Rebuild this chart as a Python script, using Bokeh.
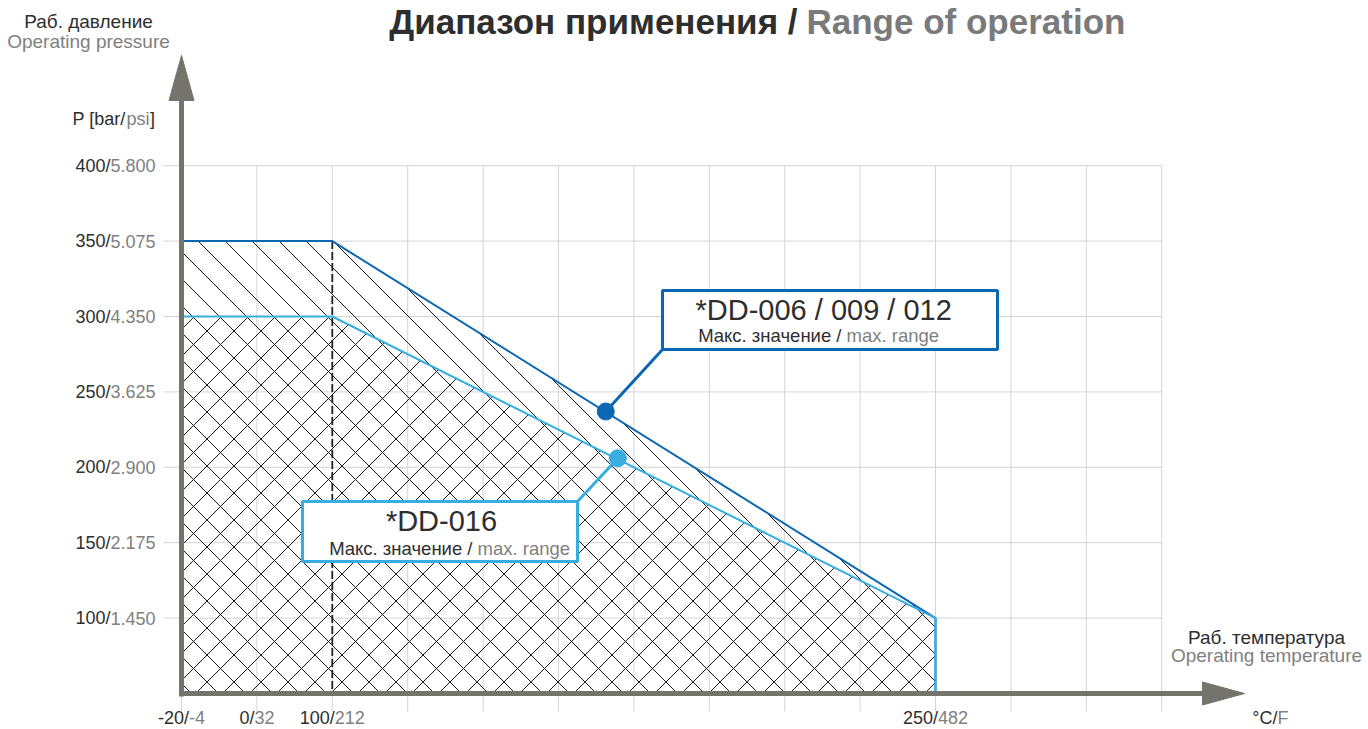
import numpy as np
from bokeh.plotting import figure
from bokeh.models import Range1d
from bokeh.core.properties import value
from bokeh.embed import file_html
from bokeh.resources import INLINE

# ------------------------------------------------------------------ data
temp_ticks_c = [-20, 0, 100, 250]
temp_ticks_f = ["-4", "32", "212", "482"]
temp_tick_pos = [0, 1, 2, 10]          # non-linear temperature axis -> grid-cell index
n_grid_cells_x = 13

pressure_ticks_bar = [100, 150, 200, 250, 300, 350, 400]
pressure_ticks_psi = ["1.450", "2.175", "2.900", "3.625", "4.350", "5.075", "5.800"]
pressure_axis_min = 50

dd006_temp = [-20, 100, 250, 250]
dd006_pres = [350, 350, 100, 50]
dd016_temp = [-20, 100, 250, 250]
dd016_pres = [300, 300, 100, 50]
dd006_marker = (168, 237)
dd016_marker = (171, 206)

# ------------------------------------------------------------------ styles
DARK_BLUE = "#0b67b2"
LIGHT_BLUE = "#38aee0"
AXIS_GRAY = "#74746d"
GRID = "#d4d4d4"
TXT_DARK = "#2e2e2e"
TXT_GRAY = "#808080"
FONT = value("Liberation Sans")
HATCH_STEP = 27  # px between hatch lines (horizontal)

# page-pixel layout helpers
GX0, GS, GY0 = 181.0, 75.4, 693.0


def px2u(x):
    return (x - GX0) / GS


def py2p(y):
    return pressure_axis_min + (GY0 - y) / GS * 50.0


def tpos(t):
    return np.interp(t, temp_ticks_c, temp_tick_pos)


def to_px(u, pres):
    return GX0 + np.asarray(u) * GS, GY0 - (np.asarray(pres) - pressure_axis_min) * GS / 50.0


W, H = 1368, 729
p = figure(width=W, height=H, x_range=Range1d(px2u(0), px2u(W)),
           y_range=Range1d(py2p(H), py2p(0)),
           x_axis_type=None, y_axis_type=None, toolbar_location=None,
           output_backend="svg", min_border=0, outline_line_color=None,
           background_fill_color="white", border_fill_color="white")


def txt(x, y, s, color=TXT_DARK, size="18px", align="left", bold=False):
    p.text(x=[x], y=[y], text=[s], text_color=color, text_font=FONT,
           text_font_size=size, text_align=align, text_baseline="middle",
           text_font_style="bold" if bold else "normal")


# ------------------------------------------------------------------ grid
gx = list(range(0, n_grid_cells_x + 1))
p.segment(x0=gx, y0=[py2p(711)] * len(gx), x1=gx, y1=[max(pressure_ticks_bar)] * len(gx),
          line_color=GRID, line_width=1)
p.segment(x0=[px2u(163)] * len(pressure_ticks_bar), y0=pressure_ticks_bar,
          x1=[n_grid_cells_x] * len(pressure_ticks_bar), y1=pressure_ticks_bar,
          line_color=GRID, line_width=1)


# ------------------------------------------------------------------ hatched areas (45° lines clipped to polygons)
def hatch_segments(us, ps, sign, phase):
    """45° hatch lines (screen space) clipped to a convex polygon.
    sign=+1: '\\' lines (Y - X = c); sign=-1: '/' lines (Y + X = c)."""
    X, Y = to_px(us, ps)
    n = len(X)
    vals = Y - sign * X
    cs = np.arange(np.floor((vals.min() - phase) / HATCH_STEP) * HATCH_STEP + phase,
                   vals.max() + 1, HATCH_STEP)
    segs = ([], [], [], [])
    for c in cs:
        pts = []
        for i in range(n):
            ax, ay, bx, by = X[i], Y[i], X[(i + 1) % n], Y[(i + 1) % n]
            fa, fb = ay - sign * ax - c, by - sign * bx - c
            if fa == fb:
                continue
            s = fa / (fa - fb)
            if 0 <= s <= 1:
                pts.append((ax + s * (bx - ax), ay + s * (by - ay)))
        if len(pts) >= 2:
            pts.sort()
            (x0, y0), (x1, y1) = pts[0], pts[-1]
            if x1 - x0 > 0.5:
                segs[0].append(px2u(x0)); segs[1].append(py2p(y0))
                segs[2].append(px2u(x1)); segs[3].append(py2p(y1))
    return segs


u006 = [tpos(dd006_temp[0])] + list(tpos(dd006_temp))
p006 = [pressure_axis_min] + dd006_pres
u016 = [tpos(dd016_temp[0])] + list(tpos(dd016_temp))
p016 = [pressure_axis_min] + dd016_pres

s = hatch_segments(u006, p006, +1, 16)
p.segment(x0=s[0], y0=s[1], x1=s[2], y1=s[3], line_color="#1a1a1a", line_width=1)
s = hatch_segments(u016, p016, -1, 24)
p.segment(x0=s[0], y0=s[1], x1=s[2], y1=s[3], line_color="#1a1a1a", line_width=1)

# dashed line at 100 °C
p.segment(x0=[tpos(100)], y0=[dd006_pres[0]], x1=[tpos(100)], y1=[pressure_axis_min],
          line_color="#222222", line_width=1.8, line_dash="8 3")

# boundary lines
p.line(list(tpos(dd006_temp)), dd006_pres, line_color=DARK_BLUE, line_width=2)
p.line(list(tpos(dd016_temp)), dd016_pres, line_color=LIGHT_BLUE, line_width=2)

# ------------------------------------------------------------------ axes with arrows
p.segment(x0=[0], y0=[py2p(696)], x1=[0], y1=[py2p(100)], line_color=AXIS_GRAY, line_width=5)
p.patch([px2u(168.5), px2u(193.5), 0], [py2p(100), py2p(100), py2p(55)],
        fill_color=AXIS_GRAY, line_color=AXIS_GRAY)
p.segment(x0=[px2u(179)], y0=[pressure_axis_min], x1=[px2u(1203)], y1=[pressure_axis_min],
          line_color=AXIS_GRAY, line_width=5)
p.patch([px2u(1202), px2u(1202), px2u(1244)], [py2p(681.5), py2p(704.5), pressure_axis_min],
        fill_color=AXIS_GRAY, line_color=AXIS_GRAY)

# ------------------------------------------------------------------ tick labels
p.text(x=[px2u(110)] * len(pressure_ticks_bar), y=pressure_ticks_bar,
       text=[f"{b}/" for b in pressure_ticks_bar], text_color=TXT_DARK, text_font=FONT,
       text_font_size="18px", text_align="right", text_baseline="middle")
p.text(x=[px2u(110)] * len(pressure_ticks_bar), y=pressure_ticks_bar,
       text=pressure_ticks_psi, text_color=TXT_GRAY, text_font=FONT,
       text_font_size="18px", text_align="left", text_baseline="middle")

ARIAL_W = {**{d: 0.556 for d in "0123456789"}, "/": 0.278, "-": 0.333, ".": 0.278,
           "p": 0.556, "s": 0.5, "i": 0.222}


def width(s, fs=18):
    return sum(ARIAL_W.get(c, 0.556) for c in s) * fs


XLAB_Y = 717
split_x = []
for c, f, pos in zip(temp_ticks_c, temp_ticks_f, temp_tick_pos):
    dark = f"{c}/"
    cpx = GX0 + pos * GS
    split_x.append(px2u(cpx - (width(dark) + width(f)) / 2 + width(dark)))
p.text(x=split_x, y=[py2p(XLAB_Y)] * 4, text=[f"{c}/" for c in temp_ticks_c],
       text_color=TXT_DARK, text_font=FONT, text_font_size="18px",
       text_align="right", text_baseline="middle")
p.text(x=split_x, y=[py2p(XLAB_Y)] * 4, text=temp_ticks_f,
       text_color=TXT_GRAY, text_font=FONT, text_font_size="18px",
       text_align="left", text_baseline="middle")

# unit label °C/F
txt(px2u(1277), py2p(XLAB_Y), "°C/", align="right")
txt(px2u(1277), py2p(XLAB_Y), "F", color=TXT_GRAY)

# axis titles
txt(px2u(88), py2p(21), "Раб. давление", size="19px", align="center")
txt(px2u(88), py2p(41), "Operating pressure", size="19px", color=TXT_GRAY, align="center")
txt(px2u(125), py2p(118), "P [bar/", align="right")
txt(px2u(126), py2p(118), "psi", color=TXT_GRAY)
txt(px2u(126 + width("psi") + 0.5), py2p(118), "]")
txt(px2u(1266), py2p(637), "Раб. температура", size="19px", align="center")
txt(px2u(1266), py2p(655), "Operating temperature", size="19px", color=TXT_GRAY, align="center")

# title
txt(px2u(797), py2p(21), "Диапазон применения /", size="35px", align="right", bold=True)
txt(px2u(806), py2p(21), "Range of operation", color="#7a7a7a", size="35px", bold=True)

# ------------------------------------------------------------------ callouts
# DD-006 / 009 / 012
p.segment(x0=[tpos(dd006_marker[0])], y0=[dd006_marker[1]], x1=[px2u(662)], y1=[py2p(349)],
          line_color=DARK_BLUE, line_width=3)
p.quad(left=[px2u(662)], right=[px2u(997)], top=[py2p(290)], bottom=[py2p(349)],
       fill_color="white", line_color=DARK_BLUE, line_width=3)
txt(px2u(695), py2p(309), "*DD-006 / 009 / 012", size="29px")
txt(px2u(841), py2p(335), "Макс. значение /", size="18.5px", align="right")
txt(px2u(846), py2p(335), "max. range", size="18.5px", color=TXT_GRAY)

# DD-016
p.segment(x0=[tpos(dd016_marker[0])], y0=[dd016_marker[1]], x1=[px2u(577)], y1=[py2p(501)],
          line_color=LIGHT_BLUE, line_width=3)
p.quad(left=[px2u(302)], right=[px2u(577)], top=[py2p(501)], bottom=[py2p(561)],
       fill_color="white", line_color=LIGHT_BLUE, line_width=3)
txt(px2u(441), py2p(520), "*DD-016", size="29px", align="center")
txt(px2u(472), py2p(547.5), "Макс. значение /", size="18.5px", align="right")
txt(px2u(477), py2p(547.5), "max. range", size="18.5px", color=TXT_GRAY)

# markers
p.scatter(x=[tpos(dd006_marker[0])], y=[dd006_marker[1]], size=17,
          fill_color=DARK_BLUE, line_color=DARK_BLUE)
p.scatter(x=[tpos(dd016_marker[0])], y=[dd016_marker[1]], size=17,
          fill_color=LIGHT_BLUE, line_color=LIGHT_BLUE)

open("out.html", "w").write(file_html(p, INLINE))
